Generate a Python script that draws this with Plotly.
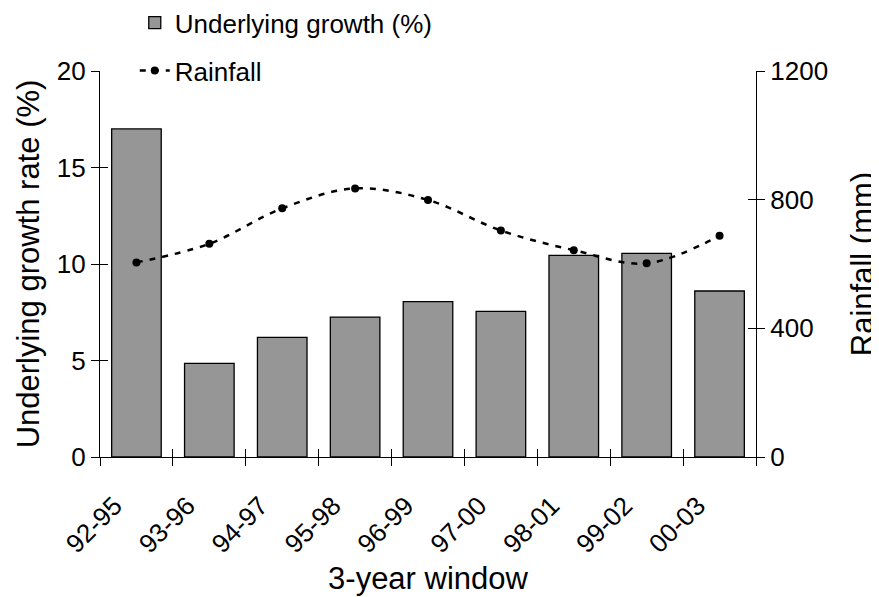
import plotly.graph_objects as go

windows = ['92-95', '93-96', '94-97', '95-98', '96-99', '97-00', '98-01', '99-02', '00-03']
growth = [17.0, 4.85, 6.2, 7.25, 8.05, 7.55, 10.45, 10.55, 8.6]
rainfall = [605, 663, 773, 835, 799, 704, 643, 602, 688]

n = len(windows)
centers = [i + 0.5 for i in range(n)]
bounds = list(range(n + 1))
label_at = [i + 0.2 for i in range(n)]

FONT = 'Liberation Sans, Arial, sans-serif'

fig = go.Figure()
fig.add_trace(go.Bar(
    x=centers, y=growth, name='Underlying growth (%)', legendgroup='g',
    width=0.68,
    marker=dict(color='#969696', line=dict(color='black', width=1.3)),
))
fig.add_trace(go.Scatter(
    x=centers, y=rainfall, name='Rainfall', yaxis='y2', legendgroup='r',
    mode='lines+markers',
    line=dict(color='black', width=2.5, dash='6px,7px', shape='spline', smoothing=1),
    marker=dict(color='black', size=8),
))

# empty traces so the overlay axes (used for the inner half of the cross ticks) get drawn
for xa, ya in [('x2', 'y'), ('x3', 'y'), ('x', 'y3'), ('x', 'y4')]:
    fig.add_trace(go.Scatter(x=[], y=[], xaxis=xa, yaxis=ya,
                             showlegend=False, hoverinfo='skip'))

tick = dict(ticklen=8, tickwidth=1.3, tickcolor='black', showgrid=False,
            zeroline=False, automargin=False)

# page body has an 8px margin, so the margins are shifted by 8px
fig.update_layout(
    width=879, height=597,
    margin=dict(l=92, r=131, t=63, b=148, autoexpand=False),
    paper_bgcolor='white', plot_bgcolor='white',
    font=dict(family=FONT, size=26, color='black'),
    xaxis=dict(
        range=[0, n], tickmode='array', tickvals=label_at, ticktext=windows,
        tickangle=-45, ticks='', showgrid=False, zeroline=False, automargin=False,
        showline=True, linecolor='black', linewidth=1.3,
        ticklabelstandoff=22,
        title=dict(text='3-year window', standoff=9),
    ),
    xaxis2=dict(overlaying='x', anchor='y', side='bottom', range=[0, n],
                tickmode='array', tickvals=bounds, ticks='outside',
                showticklabels=False, showline=False, **tick),
    xaxis3=dict(overlaying='x', anchor='y', side='bottom', range=[0, n],
                tickmode='array', tickvals=bounds, ticks='inside',
                showticklabels=False, showline=False, **tick),
    yaxis=dict(
        range=[0, 20], tickvals=[0, 5, 10, 15, 20], ticks='outside',
        showline=True, linecolor='black', linewidth=1.3,
        title=dict(text='Underlying growth rate (%)', standoff=7), **tick,
    ),
    yaxis2=dict(
        overlaying='y', side='right', range=[0, 1200], tickvals=[0, 400, 800, 1200],
        ticks='outside', showline=True, linecolor='black', linewidth=1.3,
        title=dict(text='Rainfall (mm)', standoff=24), **tick,
    ),
    yaxis3=dict(overlaying='y', side='left', range=[0, 20], tickvals=[0, 5, 10, 15, 20],
                ticks='inside', showticklabels=False, showline=False, **tick),
    yaxis4=dict(overlaying='y', side='right', range=[0, 1200], tickvals=[0, 400, 800, 1200],
                ticks='inside', showticklabels=False, showline=False, **tick),
    legend=dict(
        x=0.053, y=1.186, xanchor='left', yanchor='top',
        bgcolor='rgba(0,0,0,0)', traceorder='grouped', tracegroupgap=11,
        font=dict(size=26),
    ),
    showlegend=True,
)

fig.write_html("out.html")
